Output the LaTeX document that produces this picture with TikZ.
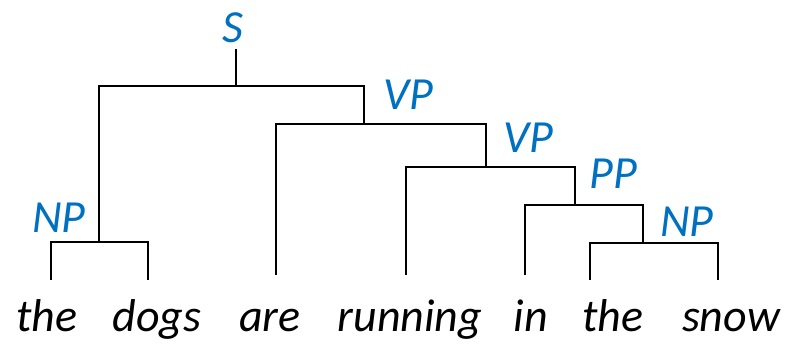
\documentclass[tikz,border=0pt]{standalone}
\usepackage{fontspec}
\setmainfont{Carlito}
\definecolor{catblue}{RGB}{0,112,192}
\begin{document}
\begin{tikzpicture}[x=1pt,y=-1pt,
  branch/.style={line width=2.9pt,black},
  cat/.style={font=\fontsize{46}{50}\selectfont\itshape,text=catblue,anchor=base,inner sep=0pt},
  word/.style={font=\fontsize{46}{50}\selectfont\itshape,text=black,anchor=base,inner sep=0pt}]
\useasboundingbox (0,0) rectangle (788,344);

% category labels
\node[cat] (Slab)  at (233,43)  {S};
\node[cat] (VPa)   at (408,110) {VP};
\node[cat] (VPb)   at (528,153) {VP};
\node[cat] (PPl)   at (613,189) {PP};
\node[cat] (NPa)   at (59,233)  {NP};
\node[cat] (NPb)   at (687,237) {NP};

% words
\node[word] (w1) at (47,332)  {the};
\node[word] (w2) at (157,332) {dogs};
\node[word] (w3) at (270,332) {are};
\node[word] (w4) at (410,332) {running};
\node[word] (w5) at (531,332) {in};
\node[word] (w6) at (613,332) {the};
\node[word] (w7) at (731,332) {snow};

% junction points of the tree
\coordinate (sTop) at (236,49);
\coordinate (s)    at (236,86);
\coordinate (vp1)  at (364,124);
\coordinate (vp2)  at (486,167);
\coordinate (pp)   at (575,205);
\coordinate (np2)  at (643,243);
\coordinate (np1)  at (99,242);

% lower ends of the leaf branches
\coordinate (t1) at (51,280);
\coordinate (t2) at (148,280);
\coordinate (t3) at (276,275);
\coordinate (t4) at (406,275);
\coordinate (t5) at (525,275);
\coordinate (t6) at (590,280);
\coordinate (t7) at (718,280);

% branches
\draw[branch] (sTop) -- (s);
\draw[branch] (np1) |- (s) -| (vp1);
\draw[branch] (t3) |- (vp1) -| (vp2);
\draw[branch] (t4) |- (vp2) -| (pp);
\draw[branch] (t5) |- (pp) -| (np2);
\draw[branch] (t6) |- (np2) -| (t7);
\draw[branch] (t1) |- (np1) -| (t2);
\end{tikzpicture}
\end{document}
